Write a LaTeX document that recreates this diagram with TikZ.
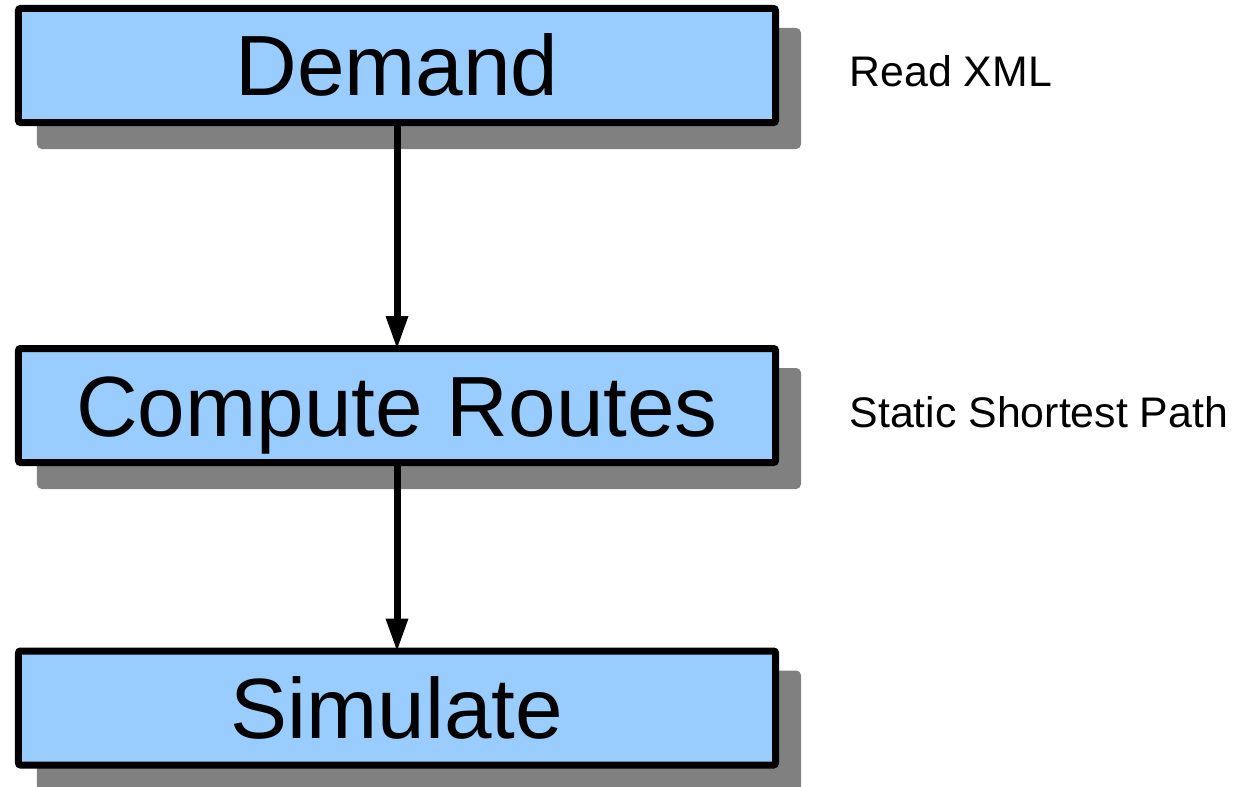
\documentclass[tikz,border=0pt]{standalone}
\usepackage{fontspec}
\setmainfont{Liberation Sans}
\usetikzlibrary{arrows.meta}
\definecolor{boxblue}{HTML}{99CCFF}
\definecolor{shadowgray}{HTML}{808080}
\tikzset{
  stepbox/.style={draw=black, line width=7bp, fill=boxblue, rounded corners=2bp,
    minimum width=757bp, minimum height=114bp, inner sep=0pt,
    text height=61bp, text depth=0pt,
    font=\fontsize{85.5bp}{90bp}\selectfont,
    preaction={draw=shadowgray, fill=shadowgray, transform canvas={shift={(22bp,-23bp)}}}},
  flowarrow/.style={draw=black, line width=7bp, shorten >=-3bp, -{Triangle[length=32bp,width=23bp,line width=0pt]}},
  sidenote/.style={anchor=base west, inner sep=0pt, font=\fontsize{42.8bp}{48bp}\selectfont}
}
\begin{document}
\begin{tikzpicture}[x=1bp, y=-1bp]
  \useasboundingbox (0,0) rectangle (1238,787);
  \node[stepbox] (demand) at (397,65.5) {Demand};
  \node[stepbox] (routes) at (397,405.5) {Compute Routes};
  \node[stepbox] (sim) at (397,708) {Simulate};
  \draw[flowarrow] (demand.south) -- (routes.north);
  \draw[flowarrow] (routes.south) -- (sim.north);
  \node[sidenote] (readxml) at (849.5,87) {Read XML};
  \node[sidenote] (ssp) at (849.5,427) {Static Shortest Path};
\end{tikzpicture}
\end{document}
